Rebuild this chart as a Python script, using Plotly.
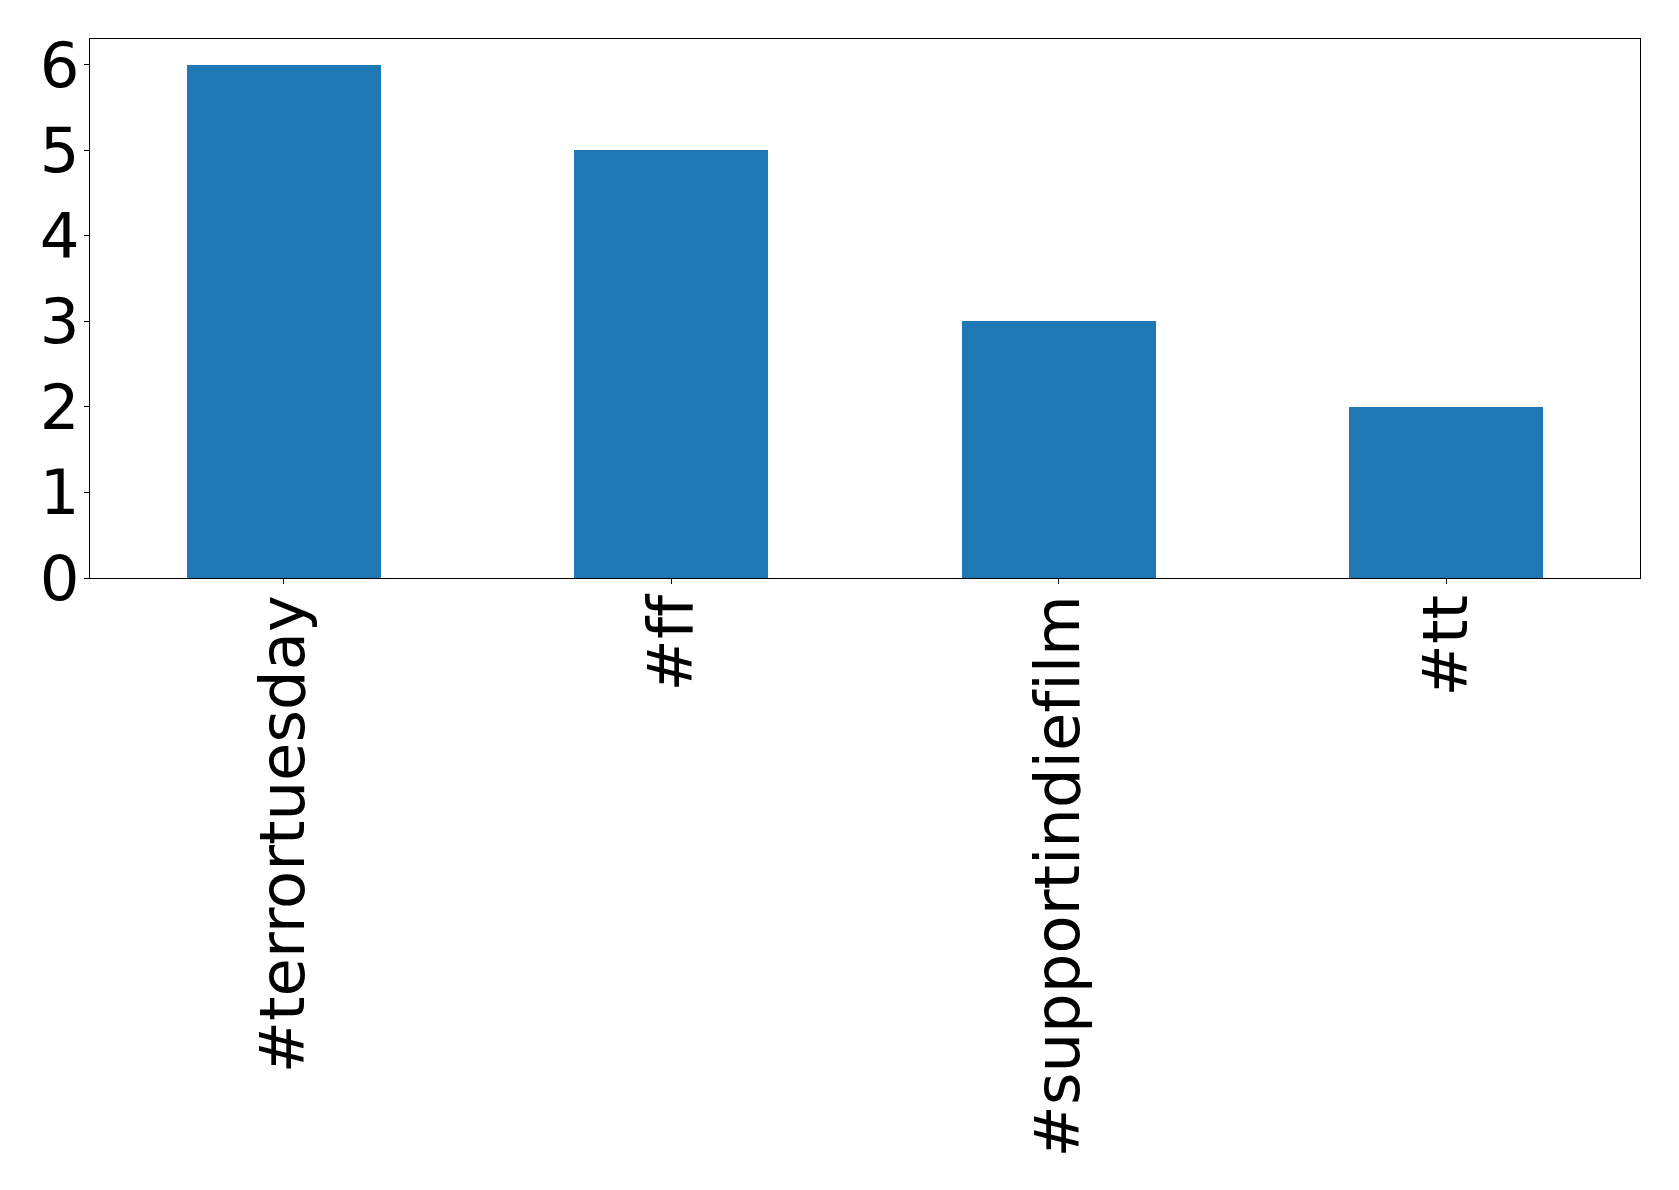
import plotly.graph_objects as go

categories = ["#terrortuesday", "#ff", "#supportindiefilm", "#tt"]
values = [6, 5, 3, 2]
y_ticks = [0, 1, 2, 3, 4, 5, 6]

FONT = dict(family="DejaVu Sans", size=62.5, color="black")

fig = go.Figure()
fig.add_trace(go.Bar(
    x=list(range(len(categories))),
    y=values,
    width=0.5,
    marker=dict(color="#1f77b4", line=dict(width=0)),
))

fig.update_layout(
    width=1679, height=1190,
    margin=dict(l=90, r=39, t=39, b=612),
    paper_bgcolor="white", plot_bgcolor="white",
    font=FONT,
    showlegend=False,
    bargap=0,
)
fig.update_xaxes(
    range=[-0.5, 3.5],
    tickmode="array",
    tickvals=list(range(len(categories))),
    ticktext=categories,
    tickangle=-90,
    ticks="outside", ticklen=5, tickwidth=1, tickcolor="black",
    ticklabelstandoff=-14,
    showline=True, linecolor="black", linewidth=1, mirror=True,
    showgrid=False, zeroline=False,
    tickfont=FONT,
)
fig.update_yaxes(
    range=[0, 6.3],
    tickmode="array",
    tickvals=y_ticks,
    ticktext=[str(v) for v in y_ticks],
    ticks="outside", ticklen=5, tickwidth=1, tickcolor="black",
    ticklabelstandoff=-8,
    showline=True, linecolor="black", linewidth=1, mirror=True,
    showgrid=False, zeroline=False,
    tickfont=FONT,
)

post = (
    "document.body.style.margin='0';"
    "var s=document.createElement('style');"
    "s.textContent='.main-svg text{font-variant-ligatures:none;font-feature-settings:\"liga\" 0;}';"
    "document.head.appendChild(s);"
)
fig.write_html("out.html", config={"displayModeBar": False}, post_script=post)
